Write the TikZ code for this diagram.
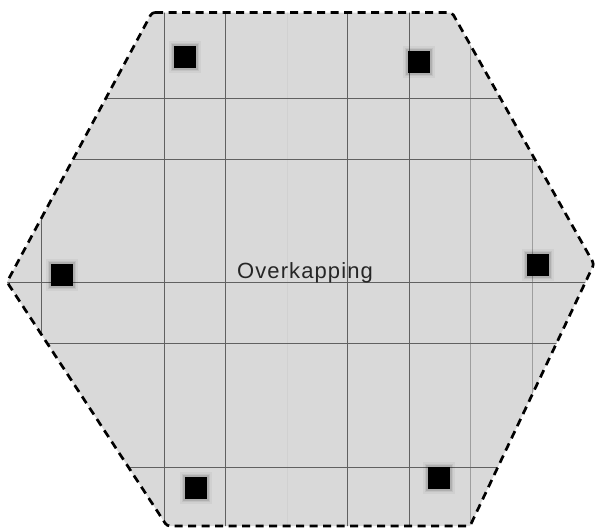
\documentclass[tikz,border=0pt]{standalone}
\usepackage{fontspec}
\newfontfamily\lblfont[LetterSpace=5]{Liberation Sans}
\begin{document}
\begin{tikzpicture}[x=1pt,y=-1pt,
  hexfill/.style={fill=hexgray},
  gridline/.style={draw=black!62,line width=0.8pt},
  gridlight/.style={draw=black!38,line width=0.8pt},
  gridfaint/.style={draw=black!18,line width=0.8pt},
  border/.style={draw=black,line width=2.7pt,dash pattern=on 8pt off 5.5pt,rounded corners=3pt},
  post/.style={fill=black,minimum size=22.5pt,inner sep=0pt,draw=none,
    preaction={draw=black,draw opacity=0.04,line width=9pt},
    preaction={draw=black,draw opacity=0.06,line width=6pt},
    preaction={draw=black,draw opacity=0.10,line width=3pt}},
  label/.style={font=\lblfont\fontsize{22}{26}\selectfont,text=black!85,inner sep=0pt,anchor=base}]
\definecolor{hexgray}{RGB}{217,217,217}
\useasboundingbox (0,0) rectangle (596,531);
\coordinate (v1) at (152,12.5);
\coordinate (v2) at (452,12.5);
\coordinate (v3) at (594,264);
\coordinate (v4) at (470,526);
\coordinate (v5) at (167,526);
\coordinate (v6) at (7,282);
\fill[hexfill] (v1) -- (v2) -- (v3) -- (v4) -- (v5) -- (v6) -- cycle;
\begin{scope}
  \clip (v1) -- (v2) -- (v3) -- (v4) -- (v5) -- (v6) -- cycle;
  \foreach \x in {41,164,225,347,409} \draw[gridline] (\x,0) -- (\x,531);
  \foreach \x in {470,532} \draw[gridlight] (\x,0) -- (\x,531);
  \draw[gridfaint] (287,0) -- (287,531);
  \foreach \y in {98,159,282,343,467} \draw[gridline] (0,\y) -- (596,\y);
\end{scope}
\draw[border] (v1) -- (v2) -- (v3) -- (v4) -- (v5) -- (v6) -- cycle;
\node[post] (p1) at (185,57) {};
\node[post] (p2) at (419,62) {};
\node[post] (p3) at (62,275) {};
\node[post] (p4) at (538,265) {};
\node[post] (p5) at (196,488) {};
\node[post] (p6) at (439,478) {};
\node[label] (t) at (305,278) {Overkapping};
\end{tikzpicture}
\end{document}
